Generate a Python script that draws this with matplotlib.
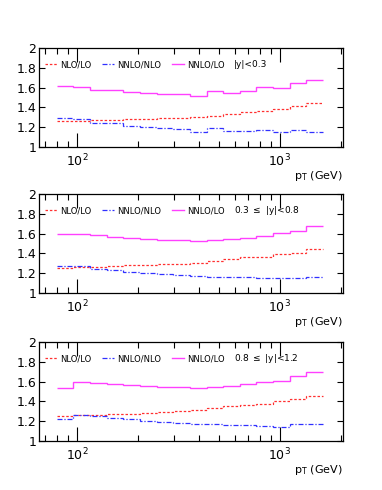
from matplotlib import pyplot as plt
from matplotlib.lines import Line2D
from matplotlib.ticker import FixedLocator, NullFormatter, LogLocator
import numpy as np

# bin edges in pT (GeV)
pt_edges = [80, 96, 116, 140, 169, 205, 247, 298, 361, 436, 526, 635, 767,
            927, 1119, 1352, 1633]

rap_labels = ['|y|<0.3', r'0.3 $\leq$ |y|<0.8', r'0.8 $\leq$ |y|<1.2']

nlo_lo = [
    [1.258, 1.264, 1.268, 1.272, 1.278, 1.285, 1.290, 1.298, 1.308, 1.315,
     1.332, 1.349, 1.366, 1.386, 1.410, 1.447],
    [1.256, 1.259, 1.266, 1.273, 1.279, 1.286, 1.290, 1.296, 1.303, 1.320,
     1.343, 1.360, 1.367, 1.390, 1.404, 1.448],
    [1.257, 1.264, 1.267, 1.271, 1.277, 1.281, 1.295, 1.305, 1.312, 1.332,
     1.353, 1.363, 1.373, 1.400, 1.425, 1.455],
]
nnlo_nlo = [
    [1.288, 1.278, 1.247, 1.244, 1.217, 1.207, 1.190, 1.186, 1.156, 1.190,
     1.159, 1.163, 1.176, 1.149, 1.173, 1.156],
    [1.276, 1.269, 1.242, 1.229, 1.212, 1.205, 1.192, 1.185, 1.168, 1.165,
     1.158, 1.158, 1.155, 1.152, 1.155, 1.162],
    [1.219, 1.267, 1.257, 1.233, 1.219, 1.205, 1.188, 1.182, 1.171, 1.168,
     1.161, 1.161, 1.154, 1.144, 1.168, 1.168],
]
nnlo_lo = [
    [1.620, 1.607, 1.580, 1.580, 1.556, 1.546, 1.532, 1.532, 1.512, 1.563,
     1.546, 1.563, 1.603, 1.593, 1.644, 1.675],
    [1.600, 1.600, 1.583, 1.562, 1.552, 1.549, 1.539, 1.539, 1.529, 1.535,
     1.542, 1.559, 1.580, 1.603, 1.630, 1.680],
    [1.538, 1.599, 1.589, 1.572, 1.562, 1.558, 1.541, 1.541, 1.538, 1.548,
     1.558, 1.579, 1.592, 1.603, 1.661, 1.695],
]

c_red = '#ff3030'
c_blue = '#3030ff'
c_mag = '#ff40ff'
ls_red = (0, (2, 1.5))
ls_blue = (0, (4, 1.5, 1, 1.5))

fig = plt.figure(figsize=(3.82, 4.90), dpi=100)
bottoms = [0.700, 0.402, 0.100]

for i in range(3):
    ax = fig.add_axes([0.102, bottoms[i], 0.796, 0.202])
    ax.stairs(nlo_lo[i], pt_edges, color=c_red, lw=0.9, ls=ls_red,
              baseline=None)
    ax.stairs(nnlo_nlo[i], pt_edges, color=c_blue, lw=0.9, ls=ls_blue,
              baseline=None)
    ax.stairs(nnlo_lo[i], pt_edges, color=c_mag, lw=1.0, baseline=None)

    ax.set_xscale('log')
    ax.set_xlim(65, 2050)
    ax.set_ylim(1, 2)
    ax.set_yticks([1, 1.2, 1.4, 1.6, 1.8, 2])
    ax.set_yticklabels(['1', '1.2', '1.4', '1.6', '1.8', '2'])
    ax.xaxis.set_major_locator(FixedLocator([100, 1000]))
    ax.set_xticklabels([r'$10^{2}$', r'$10^{3}$'])
    ax.xaxis.set_minor_locator(LogLocator(base=10, subs=np.arange(2, 10)))
    ax.xaxis.set_minor_formatter(NullFormatter())
    ax.tick_params(axis='both', which='both', direction='in', top=True,
                   right=True, width=0.8)
    ax.tick_params(axis='x', which='major', length=10, labelsize=9, pad=4)
    ax.tick_params(axis='x', which='minor', length=4)
    ax.tick_params(axis='y', which='major', length=4, labelsize=9, pad=2)
    for s in ax.spines.values():
        s.set_linewidth(0.9)

    ax.set_xlabel(r'p$_{\mathregular{T}}$ (GeV)', loc='right', fontsize=8,
                  labelpad=0)

    handles = [Line2D([], [], color=c_red, lw=0.9, ls=ls_red),
               Line2D([], [], color=c_blue, lw=0.9, ls=ls_blue),
               Line2D([], [], color=c_mag, lw=1.0)]
    ax.legend(handles, ['NLO/LO', 'NNLO/NLO', 'NNLO/LO'], ncol=3,
              loc='center left', bbox_to_anchor=(0.012, 0.83), frameon=False,
              fontsize=6, handlelength=1.4, handletextpad=0.4,
              columnspacing=1.3, borderaxespad=0.0, borderpad=0.3)
    ax.text(0.64, 0.83, rap_labels[i], transform=ax.transAxes, fontsize=6.5,
            va='center', ha='left')

fig.savefig('out.png', dpi=100)
